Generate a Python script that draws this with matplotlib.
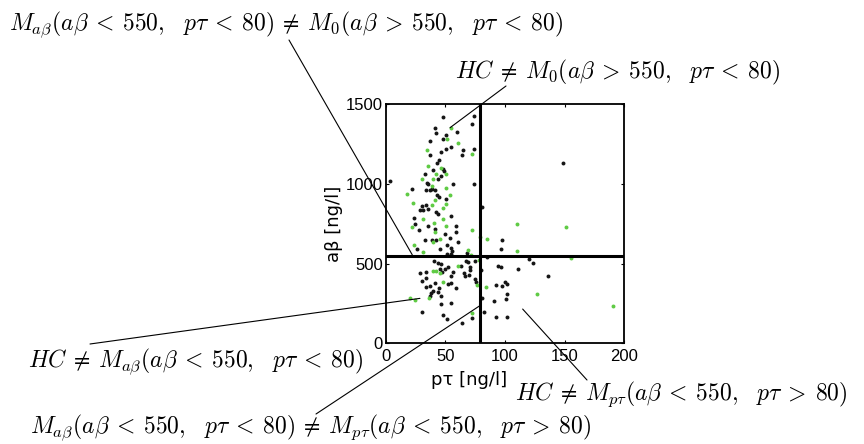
import matplotlib
matplotlib.use("Agg")
import matplotlib.pyplot as plt

plt.rcParams['mathtext.fontset'] = 'cm'

# ---- data (pτ [ng/l], aβ [ng/l]) ----
black_ptau = [48.0, 74.0, 72.6, 41.3, 42.4, 59.5, 50.8, 48.0, 36.9, 54.7, 50.8, 64.8, 64.2, 74.0,
              46.6, 36.9, 44.4, 43.0, 48.0, 49.0, 39.6, 33.2, 46.6, 56.4, 3.4, 74.3, 34.9, 43.8,
              35.5, 22.3, 33.5, 36.9, 39.0, 41.0, 43.3, 44.4, 50.8, 33.5, 30.4, 35.5, 28.5, 31.3,
              42.4, 43.8, 55.0, 81.0, 23.5, 24.8, 27.7, 35.7, 59.2, 59.2, 41.0, 49.5, 32.7, 38.8,
              42.4, 51.6, 55.0, 55.8, 60.6, 26.2, 45.3, 51.6, 55.0, 68.4, 40.2, 43.8, 46.6, 67.6,
              69.0, 74.6, 62.9, 52.2, 49.5, 45.8, 47.2, 56.4, 28.5, 34.0, 55.0, 65.6, 66.2, 69.8,
              70.4, 70.4, 34.0, 30.4, 41.6, 37.4, 34.0, 52.2, 55.0, 44.7, 43.8, 39.6, 38.2, 59.2,
              74.6, 76.0, 36.9, 46.1, 81.0, 55.0, 46.6, 30.4, 48.0, 51.4, 72.6, 82.4, 64.2, 97.7,
              96.6, 85.2, 119.9, 123.7, 94.4, 96.6, 111.2, 79.9, 136.0, 92.7, 100.0, 101.7, 97.7,
              101.7, 100.6, 90.8, 92.5, 101.7, 148.9, 53.6]
black_abeta = [1423, 1428, 1378, 1349, 1318, 1326, 1309, 1280, 1268, 1230, 1219, 1211, 1182, 1219,
               1199, 1180, 1150, 1133, 1096, 1083, 1090, 1061, 1050, 1000, 1021, 1000, 1008, 1029,
               998, 968, 962, 962, 966, 962, 933, 920, 904, 870, 862, 845, 837, 837,
               822, 810, 799, 854, 784, 747, 711, 734, 736, 700, 717, 684, 648, 646,
               646, 617, 600, 579, 636, 594, 594, 560, 560, 569, 518, 502, 498, 517,
               508, 517, 483, 477, 466, 466, 449, 449, 439, 446, 424, 439, 422, 431,
               460, 481, 412, 389, 380, 362, 356, 372, 377, 345, 324, 330, 318, 345,
               402, 387, 297, 297, 286, 251, 245, 195, 176, 151, 161, 195, 126, 646,
               590, 542, 529, 502, 487, 481, 464, 458, 424, 368, 383, 372, 360,
               311, 276, 267, 163, 163, 1130, 661]

green_ptau = [54.7, 51.4, 60.6, 34.4, 72.6, 35.7, 46.6, 50.5, 42.4, 30.7, 39.6, 38.8, 18.1, 50.8,
              53.6, 41.6, 22.9, 50.8, 38.8, 48.0, 31.3, 48.0, 40.2, 50.3, 41.6, 22.3, 72.6, 39.6,
              45.3, 78.8, 85.0, 23.5, 31.3, 68.7, 71.8, 60.4, 39.6, 42.4, 45.3, 48.3, 76.8, 83.8,
              36.0, 20.1, 24.8, 72.6, 109.8, 151.1, 109.8, 155.6, 126.8, 190.8, 78.2]
green_abeta = [1349, 1280, 1259, 1211, 1190, 1111, 1098, 1061, 1061, 1029, 1029, 987, 937, 977,
               929, 899, 879, 872, 870, 849, 778, 778, 753, 734, 699, 728, 711, 636,
               653, 665, 653, 615, 575, 585, 552, 485, 454, 454, 439, 387, 364, 355,
               284, 282, 272, 192, 751, 728, 581, 537, 311, 232, 523]

ptau_cut = 79
abeta_cut = 550
xticks = [0, 50, 100, 150, 200]
yticks = [0, 500, 1000, 1500]

W, H = 864, 444
fig = plt.figure(figsize=(W / 100, H / 100), dpi=100)
ax = fig.add_axes([385.7 / W, 1 - 343.3 / H, 238.6 / W, 239.0 / H])

ax.scatter(black_ptau, black_abeta, s=8, color='#151515', linewidths=0, zorder=3)
ax.scatter(green_ptau, green_abeta, s=8, color='#5fcb44', linewidths=0, zorder=3)
ax.axvline(ptau_cut, color='black', lw=2.2, zorder=4)
ax.axhline(abeta_cut, color='black', lw=2.2, zorder=4)

ax.set_xlim(0, 200)
ax.set_ylim(0, 1500)
ax.set_xticks(xticks)
ax.set_yticks(yticks)
for sp in ax.spines.values():
    sp.set_linewidth(1.3)
ax.tick_params(direction='in', top=True, right=True, length=2.5, width=0.8,
               labelsize=12, pad=2)
ax.tick_params(axis='x', pad=4)
for lbl in ax.get_xticklabels() + ax.get_yticklabels():
    lbl.set_family(['Liberation Sans', 'DejaVu Sans'])

ax.set_xlabel('pτ [ng/l]', fontsize=13, family=['DejaVu Sans'])
ax.set_ylabel('aβ [ng/l]', fontsize=13, family=['DejaVu Sans'])
ax.xaxis.set_label_coords(0.349, -0.115)
ax.yaxis.set_label_coords(-0.18, 0.5)

fs = 17
R = r'\:'
def rel(sym):
    return R + sym + R

LT, GT, NE = rel('<'), rel('>'), rel(r'\neq')
SEP = r',\;\;\,'
texts = [
    (9, 414, r'$M_{a\beta}(a\beta' + LT + '550' + SEP + r'p\tau' + LT + '80)' + NE +
             r'M_0(a\beta' + GT + '550' + SEP + r'p\tau' + LT + '80)$'),
    (455, 366, r'$HC' + NE + r'M_0(a\beta' + GT + '550' + SEP + r'p\tau' + LT + '80)$'),
    (28, 77, r'$HC' + NE + r'M_{a\beta}(a\beta' + LT + '550' + SEP + r'p\tau' + LT + '80)$'),
    (515, 44, r'$HC' + NE + r'M_{p\tau}(a\beta' + LT + '550' + SEP + r'p\tau' + GT + '80)$'),
    (30, 11, r'$M_{a\beta}(a\beta' + LT + '550' + SEP + r'p\tau' + LT + '80)' + NE +
             r'M_{p\tau}(a\beta' + LT + '550' + SEP + r'p\tau' + GT + '80)$'),
]
for x, y, s in texts:
    fig.text(x / W, y / H, s, fontsize=fs, ha='left', va='baseline')

# leader lines: (figure pixel start) -> (data point)
leaders = [
    ((289, 404), (22.3, 555)),
    ((506, 358), (53.9, 1353)),
    ((90, 100), (28.7, 282)),
    ((316, 30), (78.5, 234)),
    ((587, 64), (114.8, 215)),
]
for (fx, fy), (dx, dy) in leaders:
    ax.annotate('', xy=(dx, dy), xycoords='data', xytext=(fx, fy),
                textcoords='figure pixels',
                arrowprops=dict(arrowstyle='-', lw=0.8, color='black',
                                shrinkA=0, shrinkB=0),
                annotation_clip=False, zorder=5)

fig.savefig('out.png', dpi=100)
